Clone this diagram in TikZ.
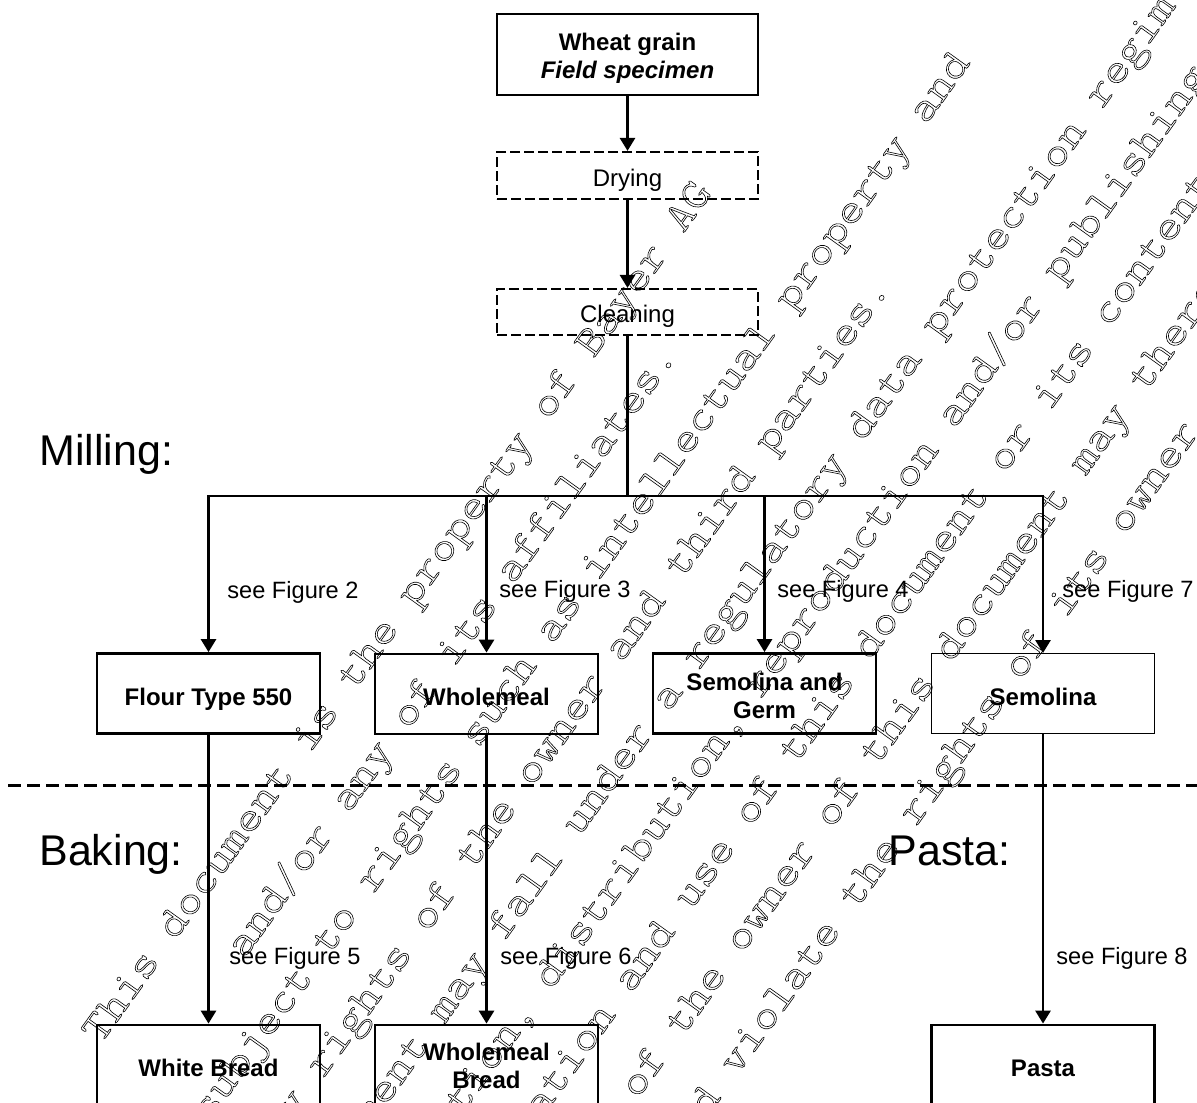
\documentclass[tikz,border=0pt]{standalone}
\usepackage{fontspec}
\setmainfont{Liberation Sans}
\newfontfamily\wmfont[FakeStretch=1.161]{lmmonolt10-regular.otf}
\usetikzlibrary{arrows.meta}
\newcommand{\wmtext}[1]{\special{pdf:literal direct 1 Tr 0.3 w}#1\special{pdf:literal direct 0 Tr}}
\newcommand{\twolines}[3]{\raisebox{-#1}[\height][\depth]{\begin{tabular}{@{}c@{}}#2\\#3\end{tabular}}}
\begin{document}
\begin{tikzpicture}[x=0.5pt,y=-0.5pt,
 conn/.style={line width=1.4pt},
 arr/.style={conn, -{Triangle[length=6.5pt,width=7.5pt]}},
 box/.style={draw, line width=1.4pt, minimum width=111.5pt, minimum height=40pt, inner sep=0pt, align=center, font=\bfseries\fontsize{12}{14}\selectfont},
 one/.style={text height=11.6pt, text depth=0pt},
 thinbox/.style={box, line width=0.5pt},
 dbox/.style={draw, line width=1.1pt, dash pattern=on 5pt off 2pt, minimum width=130.5pt, minimum height=23.5pt, inner sep=0pt, text height=10.6pt, text depth=0pt, font=\fontsize{12}{14}\selectfont},
 lab/.style={anchor=base west, inner sep=0pt, font=\fontsize{11.8}{14}\selectfont},
 head/.style={anchor=base west, inner sep=0pt, font=\fontsize{21.5}{25}\selectfont},
 sepline/.style={line width=1.5pt, dash pattern=on 6.5pt off 3pt},
 wm/.style={anchor=base, inner sep=0pt, rotate=54.3, font=\wmfont\fontsize{21}{21}\selectfont\frenchspacing}]
\useasboundingbox (0,0) rectangle (1197,1102);
\fill[white] (0,0) rectangle (1197,1102);
\clip (0,0) rectangle (1197,1102);

% top chain
\node[box, minimum width=130.5pt, minimum height=40.5pt] (wheat) at (627.5,54.5) {\twolines{2.25pt}{Wheat grain}{\textit{Field specimen}}};
\node[dbox] (drying) at (627.5,175.5) {Drying};
\node[dbox, minimum height=23pt] (cleaning) at (627.5,312) {Cleaning};

% milling products
\node[box, one] (flour) at (208.5,693.5) {Flour Type 550};
\node[box, one] (wholemeal) at (486.5,694) {Wholemeal};
\node[box] (sg) at (764.5,693.5) {\twolines{2.75pt}{Semolina and}{Germ}};
\node[thinbox, one] (semolina) at (1043,693.5) {Semolina};

% final products
\node[box, one] (whitebread) at (208.5,1065) {White Bread};
\node[box] (wmbread) at (486.5,1065) {\twolines{1.75pt}{Wholemeal}{Bread}};
\node[box, one] (pasta) at (1043,1065) {Pasta};

% headings
\node[head] (milling) at (39,465) {Milling:};
\node[head] (baking) at (39,865) {Baking:};
\node[head] (pastah) at (888,865) {Pasta:};

% labels
\node[lab] (l2) at (227,598) {see Figure 2};
\node[lab] (l3) at (499,597) {see Figure 3};
\node[lab] (l4) at (777,597) {see Figure 4};
\node[lab] (l7) at (1062,597) {see Figure 7};
\node[lab] (l5) at (229,964) {see Figure 5};
\node[lab] (l6) at (500,964) {see Figure 6};
\node[lab] (l8) at (1056,964) {see Figure 8};

% separator
\coordinate (sl) at (8,785);
\coordinate (sr) at (1197,785);
\draw[sepline] (sl) -- (sr);

% connectors
\coordinate (j) at (627.5,496);
\draw[arr] (wheat) -- (drying);
\draw[arr] (drying) -- (cleaning);
\draw[conn] (cleaning) -- (j);
\draw[arr] (j) -| (flour);
\draw[arr] (j) -| (semolina);
\draw[arr] (wholemeal |- j) -- (wholemeal);
\draw[arr] (sg |- j) -- (sg);
\draw[arr] (flour) -- (whitebread);
\draw[arr] (wholemeal) -- (wmbread);
\draw[arr] (semolina) -- (pasta);

% watermark
\node[wm] (wm1) at (406.9,618.6) {\wmtext{This document is the property of Bayer AG}};
\node[wm] (wm2) at (461.2,657.7) {\wmtext{and/or any of its affiliates.}};
\node[wm] (wm3) at (515.5,696.7) {\wmtext{It may be subject to rights such as intellectual property and}};
\node[wm] (wm4) at (569.8,735.8) {\wmtext{copy rights of the owner and third parties.}};
\node[wm] (wm5) at (624.2,774.8) {\wmtext{Furthermore, this document may fall under a regulatory data protection regime.}};
\node[wm] (wm6) at (678.5,813.8) {\wmtext{Consequently, any publication, distribution, reproduction and/or publishing and}};
\node[wm] (wm7) at (721.2,869.1) {\wmtext{any commercial exploitation and use of this document or its contents}};
\node[wm] (wm8) at (787.2,891.9) {\wmtext{without the permission of the owner of this document may therefore}};
\node[wm] (wm9) at (841.5,930.9) {\wmtext{be prohibited and violate the rights of its owner.}};
\end{tikzpicture}
\end{document}
